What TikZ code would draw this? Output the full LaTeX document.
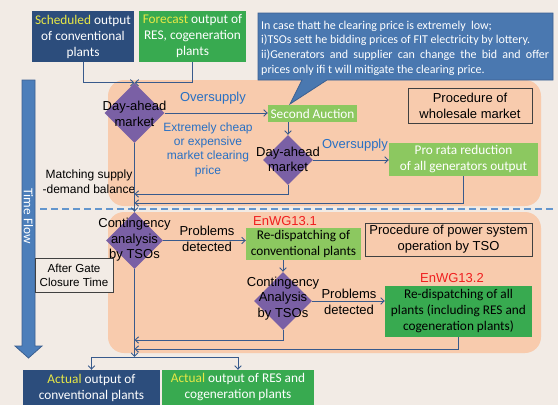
\documentclass[tikz,border=0pt]{standalone}
\usepackage{fontspec}
\setmainfont{Liberation Sans}
\newfontfamily\calfont{Carlito}
\usetikzlibrary{shapes.geometric,arrows.meta}
\definecolor{bg}{RGB}{242,235,229}
\definecolor{orng}{RGB}{248,203,173}
\definecolor{dblue}{RGB}{44,77,124}
\definecolor{dgreen}{RGB}{56,170,80}
\definecolor{lgreen}{RGB}{140,200,96}
\definecolor{purp}{RGB}{122,96,165}
\definecolor{callblue}{RGB}{74,120,176}
\definecolor{callline}{RGB}{60,96,145}
\definecolor{tfblue}{RGB}{76,126,186}
\definecolor{conncol}{RGB}{56,90,140}
\definecolor{dashcol}{RGB}{100,150,205}
\definecolor{txtblue}{RGB}{40,112,196}
\definecolor{ylw}{RGB}{232,232,70}
\definecolor{redtxt}{RGB}{240,30,30}
\definecolor{frame}{RGB}{64,64,64}
\tikzset{
  boxtext/.style={font=\calfont\fontsize{13.3}{16}\selectfont, align=center, inner sep=0pt},
  darkbox/.style={boxtext, fill=dblue, text=white},
  greenbox/.style={boxtext, fill=dgreen, text=white},
  lightbox/.style={boxtext, fill=lgreen, text=white},
  framebox/.style={draw=frame, line width=0.8pt, font=\fontsize{13}{16}\selectfont, align=center, inner sep=0pt},
  dia/.style={diamond, fill=purp, inner sep=0pt, minimum width=#1, minimum height=#1},
  dlabel/.style={font=\fontsize{13}{15.5}\selectfont, align=center, inner sep=0pt, text=black},
  bluelabel/.style={font=\fontsize{13}{15}\selectfont, align=center, inner sep=0pt, text=txtblue},
  blacklabel/.style={font=\fontsize{13}{16}\selectfont, align=center, inner sep=0pt, text=black},
  redlabel/.style={font=\fontsize{13}{15}\selectfont, inner sep=0pt, text=redtxt},
  conn/.style={draw=conncol, line width=0.9pt, -{Straight Barb[length=3.5pt,width=6.5pt]}},
  line/.style={draw=conncol, line width=0.9pt}
}
\begin{document}
\begin{tikzpicture}[x=1pt,y=-1pt]
\useasboundingbox (0,0) rectangle (558,405);
\fill[bg] (0,0) rectangle (558,405);
% regions
\fill[orng, rounded corners=16pt] (108,80) rectangle (541,206);
\fill[orng, rounded corners=16pt] (108,212) rectangle (541,353);
\draw[dashcol, line width=1.2pt, dash pattern=on 7pt off 4pt] (40,209) -- (556,209);
% time flow arrow
\filldraw[fill=tfblue, draw=callline, line width=0.8pt] (22,80) -- (35,80) -- (35,346) -- (42,346) -- (28.5,358) -- (15,346) -- (22,346) -- cycle;
\node[rotate=-90, font=\calfont\fontsize{13.3}{16}\selectfont, text=white, inner sep=0pt] (tf) at (28.5,216) {Time Flow};
% callout
\filldraw[fill=callblue, draw=callline, line width=0.8pt] (258,13) -- (553,13) -- (553,80) -- (327,80) -- (290,104) -- (302,80) -- (258,80) -- cycle;
\node[anchor=north west, inner sep=0pt, text width=288pt, text=white, font=\calfont\fontsize{12}{14.8}\selectfont, align=left] (callout) at (261,20.5)
 {\spaceskip=0pt\xspaceskip=0pt In case thatt he clearing price is extremely\ \ low;\\
  i)TSOs sett he bidding prices of FIT electricity by lottery.\\
  \makebox[288pt][s]{ii)Generators and supplier can change the bid and offer}\\
  prices only ifi t will mitigate the clearing price.};
% top boxes
\node[darkbox, minimum width=102pt, minimum height=51pt] (sched) at (83,36.5)
 {{\color{ylw}Scheduled} output\\of conventional\\plants};
\node[greenbox, minimum width=107pt, minimum height=51pt] (fore) at (192.5,36.5)
 {{\color{ylw}Forecast} output of\\RES, cogeneration\\plants};
% diamonds
\node[dia=60pt] (d1) at (134.5,113) {};
\node[dlabel] at (134.5,114) {Day-ahead\\market};
\node[dia=50pt] (d2) at (288,160) {};
\node[dlabel] at (288,159.5) {Day-ahead\\market};
\node[dia=57pt] (d3) at (134.5,240.5) {};
\node[dlabel] at (134.5,240) {Contingency\\analysis\\by TSOs};
\node[dia=58pt] (d4) at (283,301) {};
\node[dlabel] at (283,298.5) {Contingency\\Analysis\\by TSOs};
% boxes upper
\node[lightbox, minimum width=89pt, minimum height=17pt] (sa) at (312.5,113.5) {Second Auction};
\node[lightbox, minimum width=149pt, minimum height=33pt] (pr) at (463.5,159.5) {Pro rata reduction\\of all generators output};
\node[framebox, minimum width=124pt, minimum height=35pt] (pw) at (470,105.5) {Procedure of\\wholesale market};
% boxes lower
\node[lightbox, text=black, minimum width=115pt, minimum height=32pt] (rd1) at (303.5,244) {Re-dispatching of\\conventional plants};
\node[framebox, minimum width=167pt, minimum height=33pt] (ps) at (448.5,239.5) {Procedure of power system\\operation by TSO};
\node[greenbox, text=black, minimum width=147pt, minimum height=51pt] (rd2) at (458.5,311.5) {Re-dispatching of all\\plants (including RES and\\cogeneration plants)};
\node[redlabel] (en1) at (285,221) {EnWG13.1};
\node[redlabel] (en2) at (452,278) {EnWG13.2};
\node[draw=frame, line width=0.8pt, fill=bg, font=\fontsize{11.6}{14}\selectfont, align=center, inner sep=0pt, minimum width=78pt, minimum height=34pt] (ag) at (74,275) {After Gate\\Closure Time};
% bottom boxes
\node[darkbox, minimum width=137pt, minimum height=35pt] (act1) at (91.5,387.5) {{\color{ylw}Actual} output of\\conventional plants};
\node[greenbox, minimum width=152pt, minimum height=35pt] (act2) at (238,387.5) {{\color{ylw}Actual} output of RES and\\cogeneration plants};
% labels
\node[bluelabel] (os1) at (213,98) {Oversupply};
\node[bluelabel, font=\fontsize{12}{14.3}\selectfont] (ex) at (208,149.5) {Extremely cheap\\or expensive\\market clearing\\price};
\node[bluelabel] (os2) at (355,145) {Oversupply};
\node[blacklabel, font=\fontsize{12}{15}\selectfont] (ms) at (89,181.5) {Matching supply\\-demand balance};
\node[blacklabel] (pd1) at (207,238.5) {Problems\\detected};
\node[blacklabel] (pd2) at (349,301.5) {Problems\\detected};
% junctions
\coordinate (j1) at (134.5,194);
\coordinate (j2) at (134.5,203);
\coordinate (j3) at (134.5,340);
\coordinate (j4) at (134.5,349);
\coordinate (j5) at (134.5,357);
% connectors
\draw[conn] (sched.south) |- (d1.north);
\draw[conn] (fore.south) |- (d1.north);
\draw[conn] (d1.east) -- (d1.east -| sa.west);
\draw[conn] (sa.south -| d2.north) -- (d2.north);
\draw[conn] (d2.east) -- (d2.east -| pr.west);
\draw[conn] (d2.south) |- (j1);
\draw[conn] (pr.south) |- (j2);
\draw[conn] (d1.south) -- (d3.north);
\draw[conn] (d3.east) -- (d3.east -| rd1.west);
\draw[conn] (d4.north |- rd1.south) -- (d4.north);
\draw[conn] (d4.east) -- (d4.east -| rd2.west);
\draw[conn] (d4.south) |- (j3);
\draw[conn] (rd2.south) |- (j4);
\draw[conn] (d3.south) -- (j5);
\draw[conn] (j5) -| (act1.north);
\draw[conn] (j5) -| (act2.north);
\end{tikzpicture}
\end{document}
